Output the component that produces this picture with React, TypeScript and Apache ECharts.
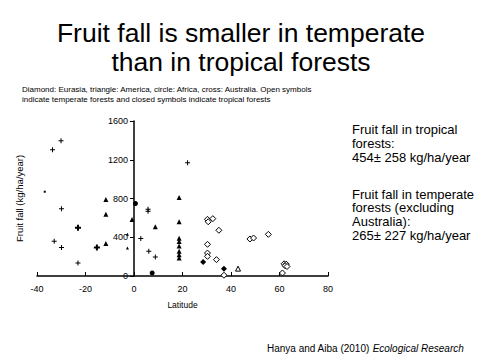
import React, { useEffect, useRef } from "react";
import * as echarts from "echarts";

// Latitude (deg), fruit fall (kg/ha/year)
const eurasiaTemperate: number[][] = [
  [30.3, 585], [32.5, 592], [30.6, 560], [35.0, 472], [47.8, 382], [49.3, 392],
  [55.4, 430], [30.3, 327], [30.3, 237], [30.3, 203], [34.0, 169], [37.1, 8],
  [61.9, 126], [62.8, 122], [62.3, 106], [63.1, 98], [61.2, 31],
];
const eurasiaTropical: number[][] = [[37.1, 76], [28.5, 145]];
const americaTropical: number[][] = [
  [-11.6, 790], [-11.6, 638], [-11.6, 335], [-0.8, 582], [8.8, 508],
  [18.6, 810], [18.6, 560], [18.6, 390], [18.6, 355], [18.6, 310],
  [18.6, 255], [18.6, 220], [18.6, 185],
];
const americaSmall: number[][] = [[-2.7, 430], [-2.7, 290]];
const americaTemperate: number[][] = [[42.9, 76]];
const africaTropical: number[][] = [[0.6, 748], [7.5, 31]];
const australiaSmall: number[][] = [
  [-33.6, 1304], [-30.1, 1395], [-29.9, 695], [-32.9, 358], [-29.9, 293],
  [-23.1, 134], [22.1, 1170], [2.8, 386], [5.8, 690], [5.8, 668], [8.8, 196], [6.1, 255],
];
const australiaBold: number[][] = [[-23.1, 499], [-15.3, 293]];
const australiaDot: number[][] = [[-36.8, 870]];

const xTicks = { min: -40, max: 80, interval: 20 };
const yTicks = { min: 0, max: 1600, interval: 400 };

const titleLines = ["Fruit fall is smaller in temperate", "than in tropical forests"];
const noteLines = [
  "Diamond: Eurasia, triangle: America, circle: Africa, cross: Australia. Open symbols",
  "indicate temperate forests and closed symbols indicate tropical forests",
];
const tropicalText = ["Fruit fall in tropical", "forests:", "454\u00b1 258 kg/ha/year"];
const temperateText = ["Fruit fall in temperate", "forests (excluding", "Australia):", "265\u00b1 227 kg/ha/year"];

const FONT = "Liberation Sans, Arial, sans-serif";
const CROSS_THIN = "path://M2,0H3V2H5V3H3V5H2V3H0V2H2Z";
const CROSS_BOLD = "path://M2,0H4V2H6V4H4V6H2V4H0V2H2Z";

const GRID_LEFT = 37;
const GRID_RIGHT = 154;
const PLOT_W = 482 - GRID_LEFT - GRID_RIGHT;
// y axis drawn where latitude = 0
const Y_AXIS_SHIFT = ((0 - xTicks.min) / (xTicks.max - xTicks.min)) * PLOT_W;

export default function App() {
  const ref = useRef<HTMLDivElement>(null);
  useEffect(() => {
    if (!ref.current) return;
    const chart = echarts.init(ref.current, null, { renderer: "svg" });
    const filled = (name: string, data: number[][], symbol: string, size: number) => ({
      name, type: "scatter", data, symbol, symbolSize: size,
      itemStyle: { color: "#000", opacity: 1 },
    });
    const open = (name: string, data: number[][], symbol: string, size: number) => ({
      name, type: "scatter", data, symbol, symbolSize: size,
      itemStyle: { color: "#fff", borderColor: "#000", borderWidth: 1, opacity: 1 },
    });
    chart.setOption({
      animation: false,
      backgroundColor: "#fff",
      textStyle: { fontFamily: FONT },
      grid: { left: GRID_LEFT, right: GRID_RIGHT, top: 121, bottom: 85, containLabel: false, outerBoundsMode: "none" },
      xAxis: {
        type: "value",
        ...xTicks,
        name: "Latitude",
        nameLocation: "middle",
        nameGap: 24,
        nameTextStyle: { fontSize: 8.5, color: "#000", fontFamily: FONT },
        axisLine: { onZero: false, lineStyle: { color: "#000", width: 1.5 } },
        axisTick: { show: true, inside: true, length: 4, lineStyle: { color: "#000" } },
        axisLabel: { fontSize: 9, color: "#000", margin: 8, fontFamily: FONT },
        splitLine: { show: false },
      },
      yAxis: {
        type: "value",
        position: "left",
        offset: -Y_AXIS_SHIFT,
        ...yTicks,
        name: "Fruit fall (kg/ha/year)",
        nameLocation: "middle",
        nameGap: 110,
        nameTextStyle: { fontSize: 9.5, color: "#000", fontFamily: FONT },
        axisLine: { onZero: false, lineStyle: { color: "#000", width: 1.5 } },
        axisTick: { show: true, inside: false, length: 4, lineStyle: { color: "#000" } },
        axisLabel: { fontSize: 9, color: "#000", margin: 6, fontFamily: FONT, formatter: (v: number) => String(v) },
        splitLine: { show: false },
      },
      series: [
        open("Eurasia temperate", eurasiaTemperate, "diamond", 6),
        filled("Eurasia tropical", eurasiaTropical, "diamond", 6),
        filled("America tropical", americaTropical, "triangle", 5),
        filled("America tropical small", americaSmall, "triangle", 3),
        open("America temperate", americaTemperate, "triangle", 5),
        filled("Africa tropical", africaTropical, "circle", 5),
        filled("Australia", australiaSmall, CROSS_THIN, 5),
        filled("Australia bold", australiaBold, CROSS_BOLD, 6),
        filled("Australia dot", australiaDot, "rect", 2),
      ],
      graphic: [
        { type: "text", x: 241, y: 33, style: { text: titleLines[0], font: `26.5px ${FONT}`, fill: "#000", textAlign: "center", textVerticalAlign: "middle" } },
        { type: "text", x: 241, y: 62, style: { text: titleLines[1], font: `26.5px ${FONT}`, fill: "#000", textAlign: "center", textVerticalAlign: "middle" } },
        { type: "text", x: 22, y: 89, style: { text: noteLines[0], font: `8px ${FONT}`, fill: "#000", textVerticalAlign: "middle" } },
        { type: "text", x: 22, y: 99, style: { text: noteLines[1], font: `8px ${FONT}`, fill: "#000", textVerticalAlign: "middle" } },
        ...tropicalText.map((t, i) => ({ type: "text", x: 352, y: 129 + i * 14, style: { text: t, font: `13px ${FONT}`, fill: "#000", textVerticalAlign: "middle" } })),
        ...temperateText.map((t, i) => ({ type: "text", x: 352, y: 194 + i * 13.7, style: { text: t, font: `13px ${FONT}`, fill: "#000", textVerticalAlign: "middle" } })),
        {
          type: "text", x: 267, y: 348,
          style: {
            text: "Hanya and Aiba (2010) {i|Ecological Research}",
            font: `10px ${FONT}`, fill: "#000", textVerticalAlign: "middle",
            rich: { i: { fontStyle: "italic", fontSize: 10, fontFamily: FONT, fill: "#000" } },
          },
        },
      ],
    });
    return () => chart.dispose();
  }, []);
  return <div ref={ref} style={{ width: 482, height: 361, position: "absolute", left: 0, top: 0 }} />;
}
